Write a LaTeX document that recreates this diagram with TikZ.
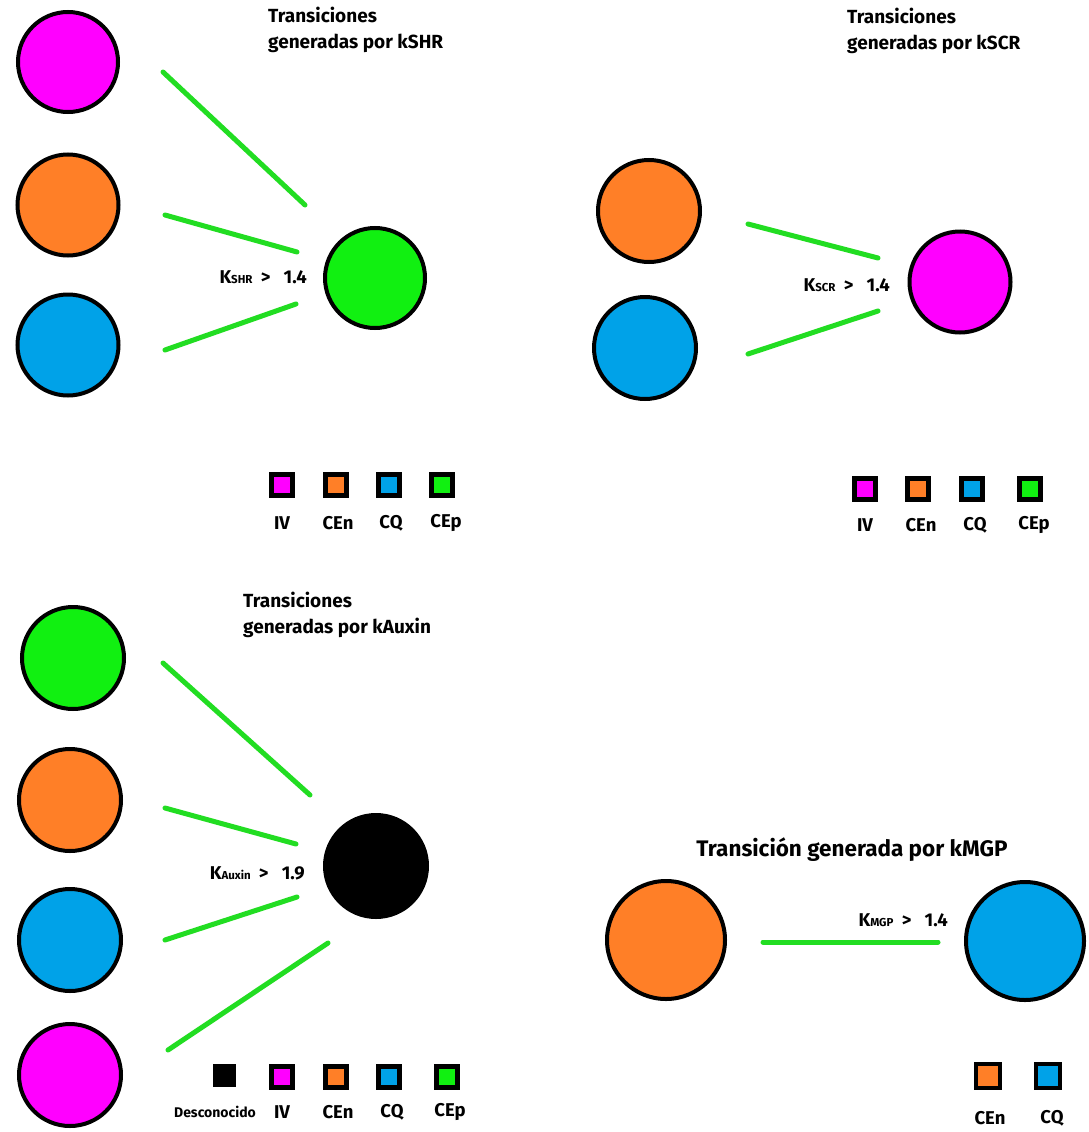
\documentclass[tikz,border=0pt]{standalone}
\usepackage{fontspec}
\setmainfont{Fira Sans}
\definecolor{cmag}{HTML}{FF00FF}
\definecolor{corg}{HTML}{FF7F27}
\definecolor{cblu}{HTML}{00A2E8}
\definecolor{cgrn}{HTML}{11F011}
\definecolor{clin}{HTML}{22DD22}
\begin{document}
\begin{tikzpicture}[x=1pt,y=-1pt,
  state/.style={circle,draw=black,line width=4pt,minimum size=#1,inner sep=0pt},
  link/.style={draw=clin,line width=5pt,line cap=round},
  lsq/.style={draw=black,line width=4.5pt,minimum size=21pt,inner sep=0pt},
  title/.style={font=\bfseries\fontsize{19}{26}\selectfont,align=left,anchor=west,inner sep=0pt},
  kl/.style={font=\bfseries\fontsize{18.5}{20}\selectfont,inner sep=0pt},
  leg/.style={font=\bfseries\fontsize{18.5}{20}\selectfont,inner sep=0pt}]
\newcommand{\subk}[1]{{\fontsize{11.5}{12}\selectfont #1}}
\newcommand{\gt}{\;\,>\;\;\,}
\path[use as bounding box,fill=white] (0,0) rectangle (1089,1132);

% ---------- Panel 1: kSHR ----------
\node[title] (t1) at (268,30) {Transiciones\\generadas por kSHR};
\node[state=100pt,fill=cmag] (m1) at (68,62) {};
\node[state=101pt,fill=corg] (o1) at (68,205) {};
\node[state=101pt,fill=cblu] (b1) at (68,345) {};
\node[state=100pt,fill=cgrn] (g1) at (375,278) {};
\draw[link] ([shift={(95,10)}]m1.center) -- ([shift={(-70,-73)}]g1.center);
\draw[link] ([shift={(97,10)}]o1.center) -- ([shift={(-78,-26)}]g1.center);
\draw[link] ([shift={(97,5)}]b1.center) -- ([shift={(-79,26)}]g1.center);
\node[kl,anchor=east] (k1) at (307,277) {K\subk{SHR}\gt 1.4};
\node[lsq,fill=cmag] (q1a) at (282,485) {};
\node[lsq,fill=corg] (q1b) at (336,485) {};
\node[lsq,fill=cblu] (q1c) at (389,485) {};
\node[lsq,fill=cgrn] (q1d) at (442,485) {};
\node[leg] (l1a) at (282,523) {IV};
\node[leg] (l1b) at (338,523) {CEn};
\node[leg] (l1c) at (391,523) {CQ};
\node[leg] (l1d) at (446,523) {CEp};

% ---------- Panel 2: kSCR ----------
\node[title] (t2) at (847,31) {Transiciones\\generadas por kSCR};
\node[state=102pt,fill=corg] (o2) at (649,211) {};
\node[state=102pt,fill=cblu] (b2) at (645,348) {};
\node[state=101pt,fill=cmag] (m2) at (960,282) {};
\draw[link] ([shift={(99,13)}]o2.center) -- ([shift={(-82,-24)}]m2.center);
\draw[link] ([shift={(103,6)}]b2.center) -- ([shift={(-82,29)}]m2.center);
\node[kl,anchor=east] (k2) at (890,285) {K\subk{SCR}\gt 1.4};
\node[lsq,fill=cmag] (q2a) at (865,489) {};
\node[lsq,fill=corg] (q2b) at (918,489) {};
\node[lsq,fill=cblu] (q2c) at (972,489) {};
\node[lsq,fill=cgrn] (q2d) at (1030,489) {};
\node[leg] (l2a) at (865,525) {IV};
\node[leg] (l2b) at (921,525) {CEn};
\node[leg] (l2c) at (975,525) {CQ};
\node[leg] (l2d) at (1034,525) {CEp};

% ---------- Panel 3: kAuxin ----------
\node[title] (t3) at (243,615) {Transiciones\\generadas por kAuxin};
\node[state=102pt,fill=cgrn] (g3) at (73,658) {};
\node[state=102pt,fill=corg] (o3) at (70,800) {};
\node[state=102pt,fill=cblu] (b3) at (70,940) {};
\node[state=102pt,fill=cmag] (m3) at (70,1075) {};
\node[state=102pt,fill=black] (k3) at (376,866) {};
\draw[link] ([shift={(90,5)}]g3.center) -- ([shift={(-66,-71)}]k3.center);
\draw[link] ([shift={(95,8)}]o3.center) -- ([shift={(-80,-22)}]k3.center);
\draw[link] ([shift={(95,0)}]b3.center) -- ([shift={(-79,31)}]k3.center);
\draw[link] ([shift={(98,-25)}]m3.center) -- ([shift={(-48,77)}]k3.center);
\node[kl,anchor=east] (kx) at (305,873) {K\subk{Auxin}\gt 1.9};
\node[fill=black,minimum size=23pt,inner sep=0pt] (q3k) at (224,1075) {};
\node[lsq,fill=cmag] (q3a) at (282,1077) {};
\node[lsq,fill=corg] (q3b) at (336,1077) {};
\node[lsq,fill=cblu] (q3c) at (389,1077) {};
\node[lsq,fill=cgrn] (q3d) at (447,1077) {};
\node[font=\bfseries\fontsize{14}{16}\selectfont,inner sep=0pt] (l3k) at (215,1112) {Desconocido};
\node[leg] (l3a) at (282,1112) {IV};
\node[leg] (l3b) at (338,1112) {CEn};
\node[leg] (l3c) at (392,1112) {CQ};
\node[leg] (l3d) at (450,1112) {CEp};

% ---------- Panel 4: kMGP ----------
\node[font=\bfseries\fontsize{22.5}{24}\selectfont,inner sep=0pt] (t4) at (852,850) {Transición generada por kMGP};
\node[state=118pt,fill=corg] (o4) at (666,940) {};
\node[state=118pt,fill=cblu] (b4) at (1025,941) {};
\draw[link] ([shift={(97,2)}]o4.center) -- ([shift={(-87,1)}]b4.center);
\node[kl,anchor=east] (km) at (948,920) {K\subk{MGP}\gt 1.4};
\node[lsq,minimum size=24pt,fill=corg] (q4a) at (988,1076) {};
\node[lsq,minimum size=24pt,fill=cblu] (q4b) at (1048,1076) {};
\node[leg] (l4a) at (990,1118) {CEn};
\node[leg] (l4b) at (1052,1118) {CQ};
\end{tikzpicture}
\end{document}
